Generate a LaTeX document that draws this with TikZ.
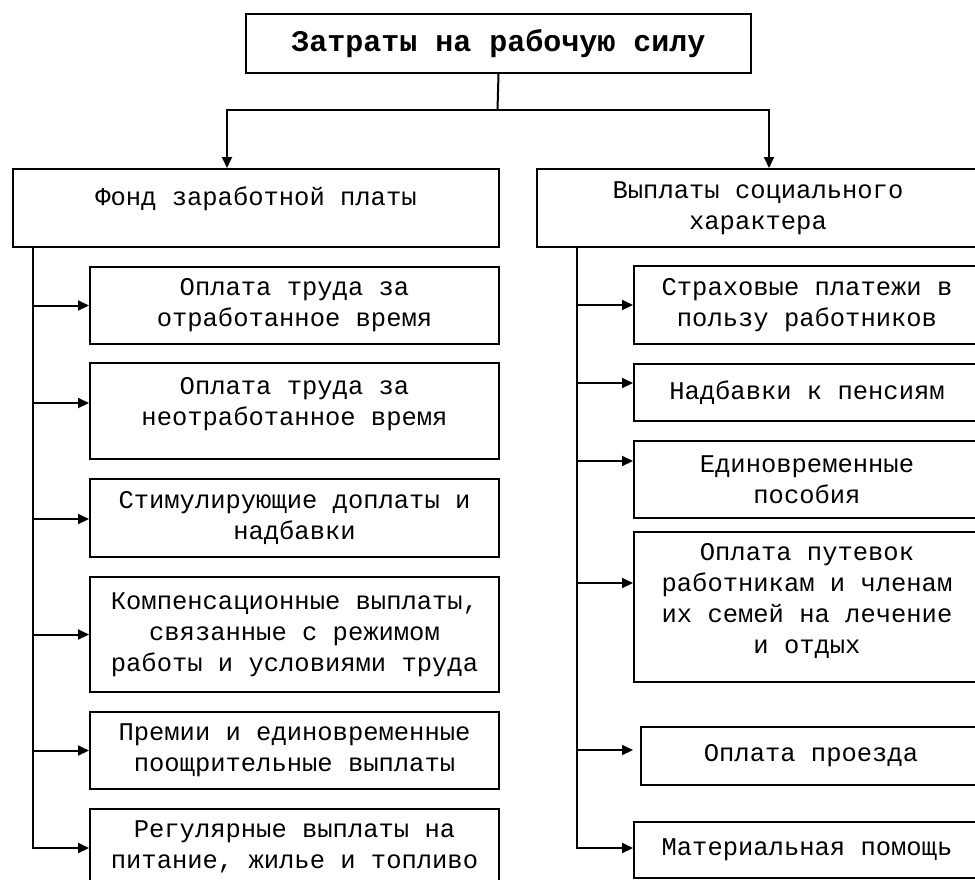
\documentclass[tikz,border=0pt]{standalone}
\usepackage{fontspec}
\setmonofont{Liberation Mono}
\usetikzlibrary{arrows.meta}

\tikzset{%
		every cell/.style={
			draw,
			inner sep=0pt,
			anchor=north west,
			align=center,
			font=\ttfamily\fontsize{25.5}{31}\selectfont
		},
		cell title/.style={
			font=\ttfamily\bfseries\fontsize{30}{36}\selectfont
		},
	}

\begin{document}
\begin{tikzpicture}[x=1pt, y=-1pt, line width=2pt, >={Triangle[length=11pt,width=10pt]}]
			\useasboundingbox (0,0) rectangle (975,879);
			\clip (0,0) rectangle (975,879);
			
			% draw top box
			\node [every cell/.try, cell title/.try, minimum width=505pt, minimum height=59pt] (top) at (245,13) {Затраты на рабочую силу};
			
			% draw second level boxes
			\node [every cell/.try, minimum width=486pt, minimum height=78pt] (fond) at (12,168) {Фонд заработной платы\\[-7pt]\phantom{Ф}};
			\node [every cell/.try, minimum width=442pt, minimum height=78pt] (social) at (536,168) {Выплаты социального\\характера};
			
			% draw boxes of the left branch
			\foreach \n/\y/\h/\t in {
				l1/266/77/{Оплата труда за\\отработанное время},
				l2/362/96/{Оплата труда за\\неотработанное время\\[-12pt]\phantom{О}},
				l3/478/78/{Стимулирующие доплаты и\\надбавки},
				l4/576/115/{Компенсационные выплаты,\\связанные с режимом\\работы и условиями труда},
				l5/711/77/{Премии и единовременные\\поощрительные выплаты},
				l6/808/76/{Регулярные выплаты на\\питание, жилье и топливо}}
			\node [every cell/.try, minimum width=409pt, minimum height=\h pt] (\n) at (89,\y) {\t};
			
			% draw boxes of the right branch
			\foreach \n/\x/\y/\w/\h/\t in {
				r1/633/265/346/78/{Страховые платежи в\\пользу работников},
				r2/633/363/346/57/{Надбавки к пенсиям},
				r3/633/440/346/77/{Единовременные\\пособия},
				r4/633/531/346/150/{Оплата путевок\\работникам и членам\\их семей на лечение\\и отдых\\[-15pt]\phantom{О}},
				r5/640/726/340/58/{Оплата проезда},
				r6/633/821/346/56/{Материальная помощь}}
			\node [every cell/.try, minimum width=\w pt, minimum height=\h pt] (\n) at (\x,\y) {\t};
			
			% split below the top box
			\coordinate (split) at (497.5,110);
			\draw (top.south) -- (split);
			\draw [->] (split) -| ([xshift=-29pt]fond.north);
			\draw [->] (split) -| ([xshift=11pt]social.north);
			
			% draw the two trunks
			\draw ([xshift=-223pt]fond.south) -- ++(0,601);
			\draw ([xshift=-181pt]social.south) -- ++(0,601);
			
			% draw arrows from the left trunk
			\foreach \n/\dy in {l1/0,l2/8,l3/-1,l4/0,l5/0,l6/-1}
			\draw [<-] ([yshift=\dy pt]\n.west) -- ++(-57,0);
			
			% draw arrows from the right trunk
			\foreach \n/\dx/\dy in {r1/0/0,r2/0/9.5,r3/0/18.5,r4/0/24,r5/-7/6,r6/0/2}
			\draw [<-] ([xshift=\dx pt, yshift=\dy pt]\n.west) -- ++(-57,0);
			\end{tikzpicture}
\end{document}
